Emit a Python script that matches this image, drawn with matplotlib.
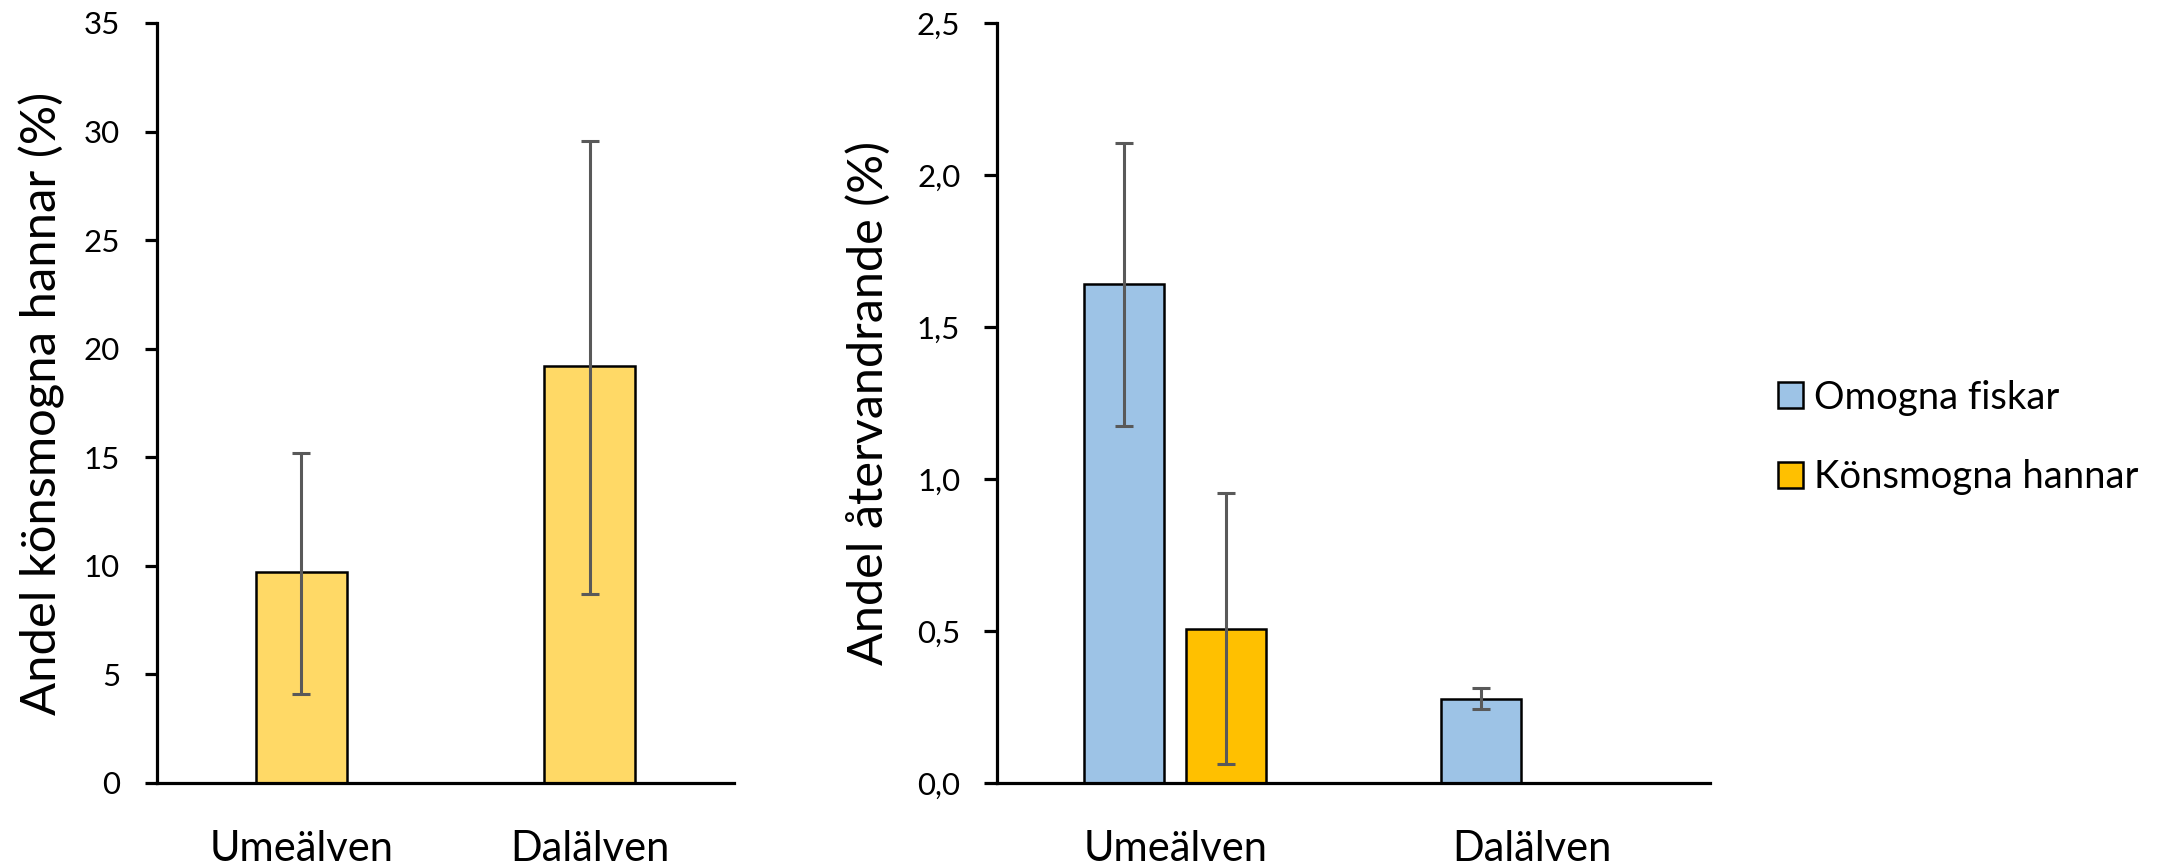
import matplotlib
matplotlib.use("Agg")
import matplotlib.pyplot as plt
from matplotlib.ticker import FuncFormatter
import numpy as np

plt.rcParams['font.family'] = ['Lato', 'DejaVu Sans']

# Data
rivers = ["Umeälven", "Dalälven"]

# Share of sexually mature males (%)
mature_share = [9.7, 19.2]
mature_share_lo = [4.1, 8.7]
mature_share_hi = [15.2, 29.55]

# Share of returning fish (%)
series_names = ["Omogna fiskar", "Könsmogna hannar"]
immature_return = [1.64, 0.276]
immature_return_lo = [1.175, 0.245]
immature_return_hi = [2.105, 0.312]
mature_return = [0.507, np.nan]
mature_return_lo = [0.064, np.nan]
mature_return_hi = [0.955, np.nan]

left_ticks = [0, 5, 10, 15, 20, 25, 30, 35]
right_ticks = [0.0, 0.5, 1.0, 1.5, 2.0, 2.5]

# Styles
C_LIGHT_GOLD = "#FFD966"
C_GOLD = "#FFC000"
C_BLUE = "#9DC3E6"
C_ERR = "#595959"
EDGE_LW = 1.8
SPINE_LW = 2.3
ERR_LW = 2.2

W, H = 2176, 865
fig = plt.figure(figsize=(W / 100, H / 100), dpi=100)

def px_axes(x0, x1, ytop, ybot):
    return fig.add_axes([x0 / W, (H - ybot) / H, (x1 - x0) / W, (ybot - ytop) / H])

def style_axes(ax, ticklen, tickpad):
    for s in ("top", "right"):
        ax.spines[s].set_visible(False)
    for s in ("left", "bottom"):
        ax.spines[s].set_linewidth(SPINE_LW)
    ax.tick_params(axis="x", length=0, pad=34, labelsize=30)
    ax.tick_params(axis="y", length=ticklen, width=SPINE_LW, pad=tickpad, labelsize=22.5)

def asym_err(vals, lo, hi):
    v = np.asarray(vals, float)
    return np.vstack([v - np.asarray(lo, float), np.asarray(hi, float) - v])

x = np.arange(len(rivers))

# Left panel: mature males
ax1 = px_axes(157, 734, 23, 783)
ax1.bar(x, mature_share, width=0.316, color=C_LIGHT_GOLD, edgecolor="black",
        linewidth=EDGE_LW, zorder=2)
ax1.errorbar(x, mature_share, yerr=asym_err(mature_share, mature_share_lo, mature_share_hi),
             fmt="none", ecolor=C_ERR, elinewidth=ERR_LW, capsize=6.5, capthick=ERR_LW, zorder=3)
ax1.set_xlim(-0.5, 1.5)
ax1.set_ylim(0, 35)
ax1.set_yticks(left_ticks)
ax1.set_xticks(x)
ax1.set_xticklabels(rivers)
style_axes(ax1, 8.6, 18)
ax1.set_ylabel("Andel könsmogna hannar (%)", fontsize=35.3, va="center")
ax1.yaxis.set_label_coords(-0.199, 0.5)

# Right panel: returning fish
ax2 = px_axes(997, 1710, 23, 783)
off, bw = 0.143, 0.224
ax2.bar(x - off, immature_return, width=bw, color=C_BLUE, edgecolor="black",
        linewidth=EDGE_LW, zorder=2, label=series_names[0])
ax2.bar(x + off, mature_return, width=bw, color=C_GOLD, edgecolor="black",
        linewidth=EDGE_LW, zorder=2, label=series_names[1])
ax2.errorbar(x - off, immature_return,
             yerr=asym_err(immature_return, immature_return_lo, immature_return_hi),
             fmt="none", ecolor=C_ERR, elinewidth=ERR_LW, capsize=6.5, capthick=ERR_LW, zorder=3)
ax2.errorbar(x + off, mature_return,
             yerr=asym_err(mature_return, mature_return_lo, mature_return_hi),
             fmt="none", ecolor=C_ERR, elinewidth=ERR_LW, capsize=6.5, capthick=ERR_LW, zorder=3)
ax2.set_xlim(-0.5, 1.5)
ax2.set_ylim(0, 2.5)
ax2.set_yticks(right_ticks)
ax2.yaxis.set_major_formatter(FuncFormatter(lambda v, p: f"{v:.1f}".replace(".", ",")))
ax2.set_xticks(x)
ax2.set_xticklabels(rivers)
style_axes(ax2, 9.4, 17)
ax2.set_ylabel("Andel återvandrande (%)", fontsize=35, va="center")
ax2.yaxis.set_label_coords(-0.18, 0.5)

fig.legend(loc="center left", bbox_to_anchor=(1778 / W, 1 - 437.5 / H),
           frameon=False, fontsize=27.5, handlelength=0.655, handleheight=0.655,
           handletextpad=0.29, labelspacing=1.15, borderaxespad=0, borderpad=0)

fig.savefig("out.png", dpi=100, facecolor="white")
